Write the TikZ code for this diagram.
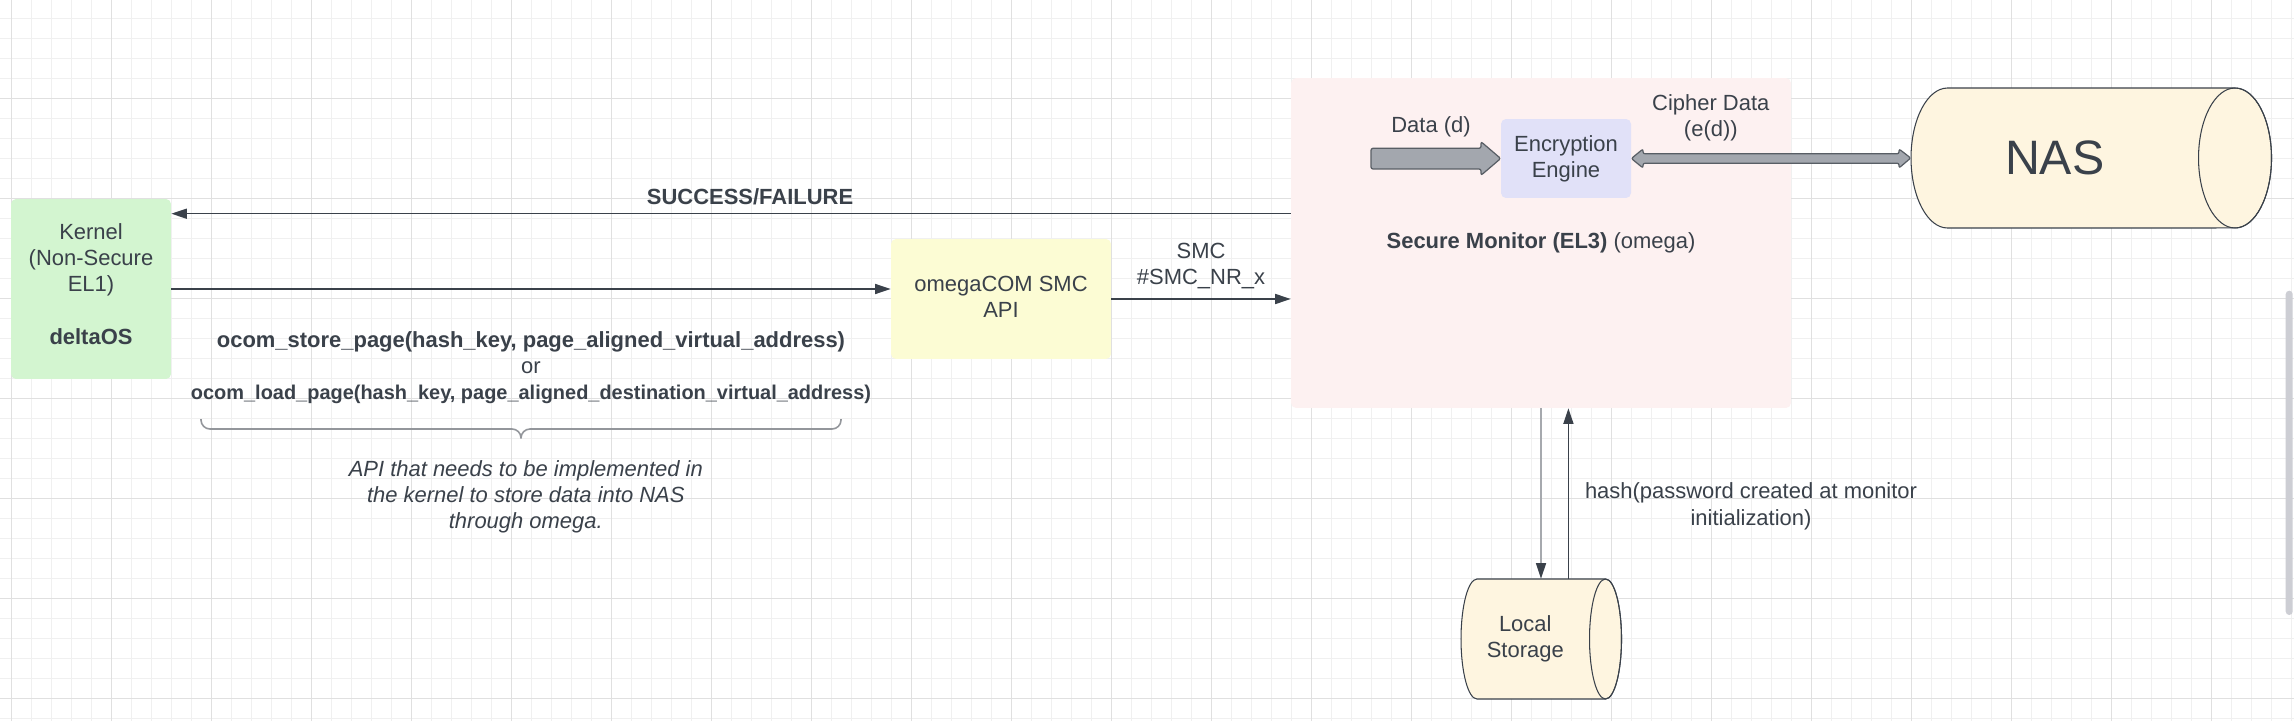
\documentclass[tikz,border=0pt]{standalone}
\usepackage{fontspec}
\setmainfont{Liberation Sans}
\usetikzlibrary{arrows.meta, calc}

\definecolor{ink}{HTML}{3A414A}
\definecolor{kernelgreen}{HTML}{D3F5D0}
\definecolor{apiyellow}{HTML}{FCFCD4}
\definecolor{monitorpink}{HTML}{FDF1F1}
\definecolor{enginelilac}{HTML}{E1E1F8}
\definecolor{storecream}{HTML}{FEF5E0}
\definecolor{pipegray}{HTML}{A3A7AE}
\definecolor{gridminor}{HTML}{F0F0F0}
\definecolor{gridmajor}{HTML}{E0E0E0}
\definecolor{scrollgray}{HTML}{CDCED4}

\newcommand{\diagfont}{\fontsize{12.5pt}{14.9pt}\selectfont}

\begin{document}
\begin{tikzpicture}[
        x=0.02cm, y=0.02cm,
        font=\diagfont, text=ink,
        block/.style={rectangle, rounded corners=0.1cm, inner sep=0pt, align=center},
        store/.style={rectangle, inner sep=0pt, align=center},
        lbl/.style={inner sep=0pt, align=center},
        conn/.style={draw=ink, line width=0.8pt, -{Triangle[length=0.31cm, width=0.2cm]}},
        feed/.style={draw=ink!45, line width=0.8pt, -{Triangle[length=0.31cm, width=0.2cm, color=ink]}},
        pipe/.style={draw=ink!85, fill=pipegray, line width=0.7pt, rounded corners=0.04cm},
        cyl/.style={draw=ink, fill=storecream, line width=0.6pt},
        brace/.style={draw=ink!55, line width=0.9pt, rounded corners=0.18cm}
    ]
        \useasboundingbox (0,0) rectangle (2294,721);
        \fill[white] (0,0) rectangle (2294,721);

        % background grid
        \foreach \x in {11.4,31.4,...,2294} \draw[gridminor, line width=0.6pt] (\x,0) -- (\x,721);
        \foreach \y in {2.7,22.7,...,721} \draw[gridminor, line width=0.6pt] (0,\y) -- (2294,\y);
        \foreach \x in {11.4,111.4,...,2294} \draw[gridmajor, line width=0.6pt] (\x,0) -- (\x,721);
        \foreach \y in {22.7,122.7,...,721} \draw[gridmajor, line width=0.6pt] (0,\y) -- (2294,\y);
        \fill[scrollgray, rounded corners=0.07cm] (2285.7,106) rectangle (2292.7,430.3);

        % boxes
        \node[block, fill=kernelgreen, minimum width=3.2cm, minimum height=3.6cm, text depth=0.2cm] (kernel) at (91,432)
            {Kernel\\(Non-Secure\\EL1)\\[14.9pt]\textbf{deltaOS}};
        \node[block, fill=apiyellow, minimum width=4.4cm, minimum height=2.4cm, text depth=0.08cm] (omega) at (1001,422)
            {omegaCOM SMC\\API};
        \node[block, fill=monitorpink, minimum width=10cm, minimum height=6.6cm] (monitor) at (1541,478)
            {\textbf{Secure Monitor (EL3)} (omega)};
        \node[block, fill=enginelilac, minimum width=2.6cm, minimum height=1.58cm] (enc) at (1566,562.5)
            {Encryption\\Engine};

        % NAS drum
        \filldraw[cyl] (1947.5,633) -- (2235,633) arc[start angle=90, end angle=-90, x radius=0.73cm, y radius=1.4cm]
            -- (1947.5,493) arc[start angle=270, end angle=90, x radius=0.73cm, y radius=1.4cm] -- cycle;
        \draw[cyl, fill=none] (2235,563) ellipse[x radius=0.73cm, y radius=1.4cm];
        \node[store, minimum width=5.75cm, minimum height=2.8cm, font=\fontsize{27.5pt}{30pt}\selectfont] (nas) at (2054.75,563) {NAS};

        % local storage drum
        \filldraw[cyl] (1477,142) -- (1605.5,142) arc[start angle=90, end angle=-90, x radius=0.32cm, y radius=1.2cm]
            -- (1477,22) arc[start angle=270, end angle=90, x radius=0.32cm, y radius=1.2cm] -- cycle;
        \draw[cyl, fill=none] (1605.5,82) ellipse[x radius=0.32cm, y radius=1.2cm];
        \node[store, minimum width=2.57cm, minimum height=2.4cm] (local) at (1525.25,82) {Local\\Storage};

        % calls between kernel, API and monitor
        \draw[conn] (monitor.west |- 0,507.3) -- node[lbl, pos=0.483, yshift=0.34cm, font=\diagfont\bfseries] (status) {SUCCESS/FAILURE} (kernel.east |- 0,507.3);
        \draw[conn] (kernel.east) -- (kernel.east -| omega.west);
        \draw[conn] (omega.east) -- node[lbl, yshift=0.66cm] (smc) {SMC\\\#SMC\_NR\_x} (omega.east -| monitor.west);

        % data through the engine
        \filldraw[pipe] (1371,552) -- (1371,572.7) -- (1481,572.7) -- (1481,579.3) -- (enc.west)
            -- (1481,545.7) -- (1481,552) -- cycle;
        \filldraw[pipe] (enc.east) -- (1643,572) -- (1643,567.2) -- (1899,567.2) -- (1899,572) -- (nas.west)
            -- (1899,553) -- (1899,557.8) -- (1643,557.8) -- (1643,553) -- cycle;
        \node[lbl] (datalbl) at (1431,594.3) {Data (d)};
        \node[lbl] (cipherlbl) at (1710.8,603.5) {Cipher Data\\(e(d))};

        % key from local storage
        \draw[feed] (monitor.south) -- (monitor.south |- local.north);
        \draw[conn] (local.north -| 1568.4,0) -- (monitor.south -| 1568.4,0);
        \node[lbl] (hashlbl) at (1751,214.7) {hash(password created at monitor\\initialization)};

        % kernel side API
        \node[lbl, font=\diagfont\bfseries] (apicalls) at (531,353.2)
            {ocom\_store\_page(hash\_key, page\_aligned\_virtual\_address)\\{\mdseries or}\\{\fontsize{11.35pt}{14.9pt}\selectfont ocom\_load\_page(hash\_key, page\_aligned\_destination\_virtual\_address)}};
        \draw[brace] (201,302) -- (201,292) -- (521,292) -- (521,282.7);
        \draw[brace] (841,302) -- (841,292) -- (521,292) -- (521,282.7);
        \node[lbl, font=\diagfont\itshape] (apinote) at (525.8,224.3)
            {API that needs to be implemented in\\the kernel to store data into NAS\\through omega.};
    \end{tikzpicture}
\end{document}
